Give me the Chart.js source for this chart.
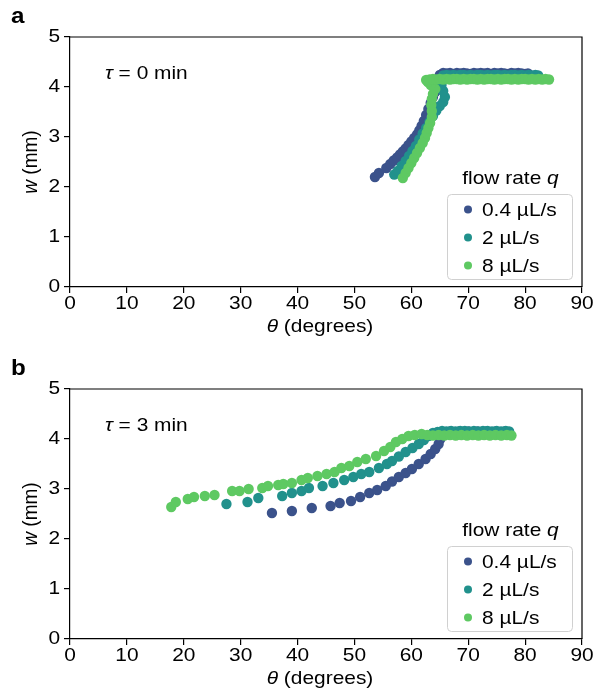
<!DOCTYPE html>
<html>
<head>
<meta charset="utf-8">
<script src="https://cdn.jsdelivr.net/npm/chart.js@4.4.1/dist/chart.umd.min.js"></script>
<style>
    body { margin: 0; background: #fff; }
    .panel { position: absolute; left: 0; }
</style>
</head>
<body>
<div class="panel" style="top:0px;width:602px;height:353px"><canvas id="chartA"></canvas></div>
<div class="panel" style="top:352px;width:602px;height:337px"><canvas id="chartB"></canvas></div>
<script>
// series labels + colours (viridis picks)
const seriesNames = ['0.4 µL/s', '2 µL/s', '8 µL/s'];
const seriesColors = ['#3b528b', '#21918c', '#5ec962'];
const xTicks = [0, 10, 20, 30, 40, 50, 60, 70, 80, 90];
const yTicks = [0, 1, 2, 3, 4, 5];

// panel a, tau = 0 min
const a04Theta = [53.6, 54.3, 55.6, 56.3, 56.9, 57.5, 58.0, 58.5, 59.0, 59.5, 60.0, 60.5, 61.0, 61.4, 61.8, 62.2, 62.6, 63.0, 63.4, 63.8, 64.2, 64.6, 65.2, 65.0, 65.6, 66.2, 66.8, 67.4, 68.0, 68.6, 69.2, 69.8, 70.4, 71.0, 71.6, 72.2, 72.8, 73.4, 74.0, 74.6, 75.2, 75.8, 76.4, 77.0, 77.6, 78.2, 78.8, 79.4, 80.0, 80.5];
const a04W = [2.20, 2.28, 2.38, 2.46, 2.53, 2.59, 2.65, 2.71, 2.77, 2.84, 2.91, 2.98, 3.05, 3.13, 3.22, 3.32, 3.44, 3.56, 3.68, 3.80, 3.90, 4.00, 4.10, 4.24, 4.28, 4.27, 4.28, 4.26, 4.28, 4.27, 4.28, 4.27, 4.26, 4.28, 4.27, 4.28, 4.27, 4.28, 4.26, 4.28, 4.27, 4.28, 4.27, 4.26, 4.28, 4.27, 4.28, 4.27, 4.26, 4.27];
const a2Theta = [57.0, 57.6, 58.3, 59.0, 59.6, 60.2, 60.8, 61.4, 62.0, 62.6, 63.2, 63.8, 64.4, 65.0, 65.6, 65.9, 65.6, 65.3, 65.0, 65.6, 66.2, 66.8, 67.4, 68.0, 68.6, 69.2, 69.8, 70.4, 71.0, 71.6, 72.2, 72.8, 73.4, 74.0, 74.6, 75.2, 75.8, 76.4, 77.0, 77.6, 78.2, 78.8, 79.4, 80.0, 80.6, 81.2, 81.8, 82.3];
const a2W = [2.25, 2.32, 2.42, 2.52, 2.62, 2.72, 2.82, 2.95, 3.07, 3.18, 3.30, 3.42, 3.53, 3.62, 3.70, 3.80, 3.92, 4.04, 4.16, 4.23, 4.24, 4.23, 4.24, 4.23, 4.24, 4.24, 4.23, 4.24, 4.23, 4.24, 4.24, 4.23, 4.24, 4.23, 4.24, 4.24, 4.23, 4.24, 4.23, 4.24, 4.24, 4.23, 4.24, 4.23, 4.24, 4.23, 4.24, 4.23];
const a8Theta = [58.5, 59.0, 59.5, 60.0, 60.5, 61.0, 61.5, 62.0, 62.4, 62.7, 63.0, 63.3, 63.6, 63.6, 63.5, 63.6, 63.8, 64.2, 63.4, 62.9, 62.6, 63.2, 63.8, 64.4, 65.0, 65.6, 66.2, 66.8, 67.4, 68.0, 68.6, 69.2, 69.8, 70.4, 71.0, 71.6, 72.2, 72.8, 73.4, 74.0, 74.6, 75.2, 75.8, 76.4, 77.0, 77.6, 78.2, 78.8, 79.4, 80.0, 80.6, 81.2, 81.8, 82.4, 83.0, 83.6, 84.2];
const a8W = [2.18, 2.28, 2.38, 2.48, 2.58, 2.68, 2.78, 2.88, 2.98, 3.08, 3.18, 3.28, 3.40, 3.52, 3.64, 3.76, 3.86, 3.96, 4.04, 4.10, 4.14, 4.15, 4.16, 4.15, 4.16, 4.15, 4.16, 4.15, 4.16, 4.16, 4.15, 4.16, 4.15, 4.16, 4.16, 4.15, 4.16, 4.15, 4.16, 4.16, 4.15, 4.16, 4.15, 4.16, 4.16, 4.15, 4.16, 4.15, 4.16, 4.16, 4.15, 4.16, 4.15, 4.16, 4.15, 4.16, 4.15];

// panel b, tau = 3 min
const b04Theta = [35.5, 39.0, 42.5, 45.8, 47.4, 49.4, 51.0, 52.6, 54.0, 55.5, 56.6, 57.8, 59.0, 60.1, 61.3, 62.5, 63.4, 64.2, 64.8, 65.1, 65.3, 66.0, 66.8, 67.6, 68.4, 69.2, 70.0, 70.8, 71.6, 72.4, 73.2, 74.0, 74.8, 75.6, 76.4];
const b04W = [2.52, 2.56, 2.62, 2.66, 2.72, 2.76, 2.84, 2.92, 2.98, 3.06, 3.15, 3.24, 3.32, 3.40, 3.50, 3.60, 3.70, 3.80, 3.90, 4.00, 4.12, 4.14, 4.15, 4.14, 4.15, 4.14, 4.15, 4.14, 4.15, 4.14, 4.15, 4.14, 4.15, 4.14, 4.15];
const b2Theta = [27.5, 31.2, 33.1, 37.3, 39.0, 40.7, 42.0, 44.4, 46.3, 48.2, 49.8, 51.2, 52.6, 54.3, 55.7, 56.6, 57.8, 59.0, 60.2, 61.3, 62.2, 63.0, 63.8, 64.6, 65.4, 66.2, 67.0, 67.8, 68.6, 69.4, 70.2, 71.0, 71.8, 72.6, 73.4, 74.2, 75.0, 75.8, 76.6, 77.2];
const b2W = [2.70, 2.74, 2.82, 2.86, 2.92, 2.96, 3.02, 3.06, 3.12, 3.18, 3.24, 3.30, 3.34, 3.42, 3.50, 3.56, 3.65, 3.74, 3.82, 3.90, 3.98, 4.06, 4.12, 4.14, 4.16, 4.15, 4.16, 4.15, 4.16, 4.16, 4.15, 4.16, 4.15, 4.16, 4.16, 4.15, 4.16, 4.15, 4.16, 4.15];
const b8Theta = [17.8, 18.6, 20.7, 21.8, 23.7, 25.4, 28.5, 29.8, 31.4, 33.8, 34.8, 36.6, 37.5, 39.0, 40.7, 41.8, 43.5, 45.1, 46.5, 47.7, 49.1, 50.5, 52.0, 53.8, 55.2, 56.3, 57.3, 58.4, 59.5, 60.6, 61.8, 62.8, 63.8, 64.8, 65.8, 66.8, 67.8, 68.8, 69.8, 70.8, 71.8, 72.8, 73.8, 74.8, 75.8, 76.8, 77.6];
const b8W = [2.64, 2.74, 2.80, 2.84, 2.86, 2.88, 2.96, 2.96, 3.00, 3.02, 3.06, 3.08, 3.10, 3.12, 3.18, 3.22, 3.26, 3.30, 3.34, 3.42, 3.46, 3.54, 3.60, 3.66, 3.76, 3.84, 3.94, 4.00, 4.06, 4.08, 4.10, 4.08, 4.07, 4.08, 4.07, 4.08, 4.07, 4.08, 4.07, 4.08, 4.07, 4.08, 4.07, 4.08, 4.07, 4.08, 4.07];

const FONT = '"Liberation Sans", Arial, sans-serif';
const FS = 19;      // font size
const SX = 1.1;     // the reference text is a bit wide, stretch it

function toPoints(xs, ys) {
    return xs.map((x, i) => ({ x: x, y: ys[i] }));
}

// text made of [string, italic] parts, drawn with a horizontal stretch
function drawParts(ctx, parts, x, y, align, size, bold) {
    const fontOf = p => (p[1] ? 'italic ' : '') + (bold ? 'bold ' : '') + size + 'px ' + FONT;
    let total = 0;
    parts.forEach(p => {
        ctx.font = fontOf(p);
        total += ctx.measureText(p[0]).width;
    });
    let cx = align === 'center' ? -total / 2 : align === 'right' ? -total : 0;
    ctx.save();
    ctx.translate(x, y);
    ctx.scale(SX, 1);
    ctx.textAlign = 'left';
    ctx.textBaseline = 'middle';
    parts.forEach(p => {
        ctx.font = fontOf(p);
        ctx.fillText(p[0], cx, 0);
        cx += ctx.measureText(p[0]).width;
    });
    ctx.restore();
}

const decorations = {
    id: 'decorations',
    afterDraw(chart, args, opts) {
        const ctx = chart.ctx;
        const a = chart.chartArea;
        const xs = chart.scales.x, ys = chart.scales.y;
        ctx.save();
        ctx.fillStyle = '#000';
        ctx.strokeStyle = '#000';
        ctx.lineWidth = 1.2;

        // top + right spines
        ctx.beginPath();
        ctx.moveTo(a.left, a.top);
        ctx.lineTo(a.right, a.top);
        ctx.lineTo(a.right, a.bottom);
        ctx.stroke();

        // tick labels at the scale's own tick positions
        xs.ticks.forEach(t => {
            drawParts(ctx, [[String(t.value), false]], xs.getPixelForValue(t.value), a.bottom + 17, 'center', FS);
        });
        ys.ticks.forEach(t => {
            drawParts(ctx, [[String(t.value), false]], a.left - 10, ys.getPixelForValue(t.value), 'right', FS);
        });

        // panel letter
        drawParts(ctx, [[opts.letter, false]], 11, 17, 'left', 22, true);

        // tau note
        drawParts(ctx, [['τ', true], [' = ' + opts.tau + ' min', false]], a.left + 35, a.top + 37, 'left', FS);

        // axis titles
        drawParts(ctx, [['θ', true], [' (degrees)', false]], (a.left + a.right) / 2 - 6, a.bottom + 40, 'center', FS);
        ctx.save();
        ctx.translate(31, (a.top + a.bottom) / 2);
        ctx.rotate(-Math.PI / 2);
        ctx.scale(1 / SX, SX);
        drawParts(ctx, [['w', true], [' (mm)', false]], 0, 0, 'center', FS);
        ctx.restore();

        // legend
        const bx = 447, by = a.top + 157, bw = 125, bh = 85;
        drawParts(ctx, [['flow rate ', false], ['q', true]], bx + bw / 2 + 1, a.top + 142, 'center', FS);
        ctx.strokeStyle = '#d0d0d0';
        ctx.lineWidth = 1;
        ctx.beginPath();
        ctx.roundRect(bx + 0.5, by + 0.5, bw, bh, 4);
        ctx.stroke();
        seriesNames.forEach((name, i) => {
            const ry = by + 15.5 + i * 28;
            ctx.fillStyle = seriesColors[i];
            ctx.beginPath();
            ctx.arc(bx + 21, ry, 4, 0, Math.PI * 2);
            ctx.fill();
            ctx.fillStyle = '#000';
            drawParts(ctx, [[name, false]], bx + 35, ry + 1, 'left', FS);
        });
        ctx.restore();
    }
};

function makeChart(id, sets, letter, tau, xHeight) {
    const datasets = sets.map((pts, i) => ({
        label: seriesNames[i],
        data: pts,
        backgroundColor: seriesColors[i],
        borderWidth: 0,
        pointRadius: 5.2,
        pointHoverRadius: 5.2,
        order: 2 - i
    }));
    return new Chart(document.getElementById(id), {
        type: 'scatter',
        data: { datasets: datasets },
        options: {
            responsive: true,
            maintainAspectRatio: false,
            animation: false,
            layout: { padding: { top: 37, right: 20, left: 0, bottom: 0 } },
            plugins: {
                legend: { display: false },
                tooltip: { enabled: false },
                decorations: { letter: letter, tau: tau }
            },
            scales: {
                x: {
                    type: 'linear',
                    min: 0, max: 90,
                    afterBuildTicks: s => { s.ticks = xTicks.map(v => ({ value: v })); },
                    afterFit: s => { s.height = xHeight; },
                    grid: { drawOnChartArea: false, drawTicks: true, tickLength: 6, color: '#000', lineWidth: 1.2 },
                    border: { display: true, color: '#000', width: 1.2 },
                    ticks: { display: false }
                },
                y: {
                    type: 'linear',
                    min: 0, max: 5,
                    afterBuildTicks: s => { s.ticks = yTicks.map(v => ({ value: v })); },
                    afterFit: s => { s.width = 70; },
                    grid: { drawOnChartArea: false, drawTicks: true, tickLength: 6, color: '#000', lineWidth: 1.2 },
                    border: { display: true, color: '#000', width: 1.2 },
                    ticks: { display: false }
                }
            }
        },
        plugins: [decorations]
    });
}

document.addEventListener('DOMContentLoaded', () => {
    makeChart('chartA', [toPoints(a04Theta, a04W), toPoints(a2Theta, a2W), toPoints(a8Theta, a8W)], 'a', '0', 66);
    makeChart('chartB', [toPoints(b04Theta, b04W), toPoints(b2Theta, b2W), toPoints(b8Theta, b8W)], 'b', '3', 50);
});
</script>
</body>
</html>
